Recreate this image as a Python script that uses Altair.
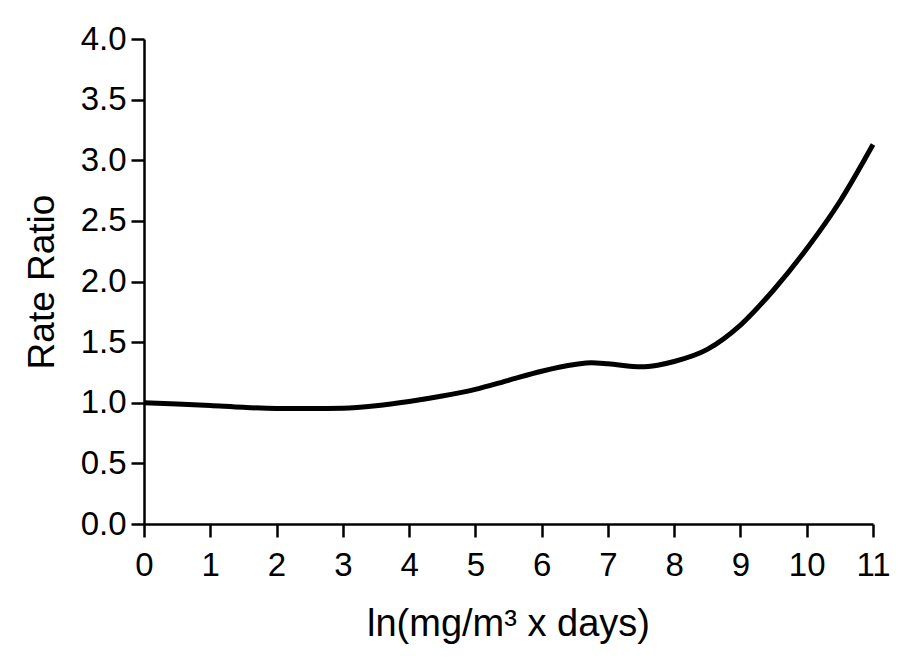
import altair as alt
import pandas as pd

# Curve
x_vals = [0, 0.5, 1, 1.5, 2, 2.5, 3, 3.5, 4, 4.5, 5, 5.5, 6, 6.5, 6.75, 7, 7.5, 7.75, 8, 8.5, 9, 9.5, 10, 10.5, 11]
y_vals = [1.00, 0.99, 0.977, 0.962, 0.953, 0.952, 0.955, 0.975, 1.01, 1.055, 1.11, 1.185, 1.26, 1.315, 1.33, 1.322, 1.296, 1.31, 1.34, 1.44, 1.64, 1.93, 2.27, 2.66, 3.13]

x_ticks = list(range(0, 12))
y_ticks = [0.0, 0.5, 1.0, 1.5, 2.0, 2.5, 3.0, 3.5, 4.0]

df = pd.DataFrame({"x": x_vals, "y": y_vals})

FONT = "Liberation Sans, Arial, Helvetica, sans-serif"

chart = (
    alt.Chart(df)
    .mark_line(color="black", strokeWidth=5, interpolate="monotone")
    .encode(
        x=alt.X(
            "x:Q",
            scale=alt.Scale(domain=[0, 11], nice=False, zero=False),
            axis=alt.Axis(
                values=x_ticks,
                format="d",
                title="ln(mg/m³  x days)",
                titleFontSize=38,
                titleFont=FONT,
                titleFontWeight="normal",
                titleColor="black",
                titleBaseline="alphabetic",
                titleX=364,
                titleY=111,
                labelFontSize=33,
                labelFont=FONT,
                labelColor="black",
                labelPadding=12,
                labelFlush=False,
                labelOverlap=False,
                tickSize=13,
                tickWidth=2.5,
                tickColor="black",
                domainColor="black",
                domainWidth=2.5,
                grid=False,
            ),
        ),
        y=alt.Y(
            "y:Q",
            scale=alt.Scale(domain=[0, 4], nice=False, zero=False),
            axis=alt.Axis(
                values=y_ticks,
                format=".1f",
                title="Rate Ratio",
                titleFontSize=37,
                titleFont=FONT,
                titleFontWeight="normal",
                titleColor="black",
                titleBaseline="alphabetic",
                titleAngle=-90,
                titleX=-91,
                labelFontSize=33,
                labelFont=FONT,
                labelColor="black",
                labelPadding=5,
                labelFlush=False,
                labelOverlap=False,
                tickSize=13,
                tickWidth=2.5,
                tickColor="black",
                domainColor="black",
                domainWidth=2.5,
                grid=False,
            ),
        ),
    )
    .properties(
        width=729,
        height=485,
        autosize=alt.AutoSizeParams(type="none"),
        padding={"left": 136, "top": 31, "right": 18, "bottom": 122},
        background="white",
    )
    .configure_view(stroke=None)
)

chart.save("out.html", embed_options={"renderer": "svg", "actions": False})
